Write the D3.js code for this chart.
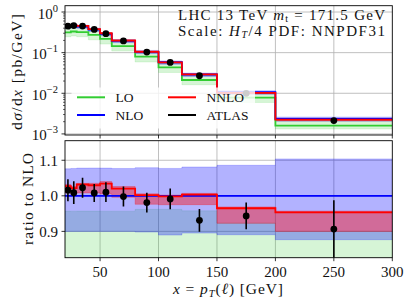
<!DOCTYPE html>
<html><head><meta charset="utf-8">
<script src="https://cdn.jsdelivr.net/npm/d3@7"></script>
<style>
html,body{margin:0;padding:0;background:#fff;}
svg{display:block;font-family:"Liberation Serif","DejaVu Serif",serif;}
</style></head>
<body><svg id="c" width="409" height="307"></svg>
<script>
// ---- data (pb/GeV) ----
const binEdges = [20,25,30,40,50,60,80,100,120,150,200,300];
const nloCentral = [0.44,0.46,0.44,0.37,0.29,0.195,0.105,0.058,0.029,0.0106,0.00235];
const nnloCentral = [0.452,0.470,0.454,0.381,0.300,0.199,0.1052,0.0579,0.0291,0.01023,0.00224];
const loCentral = [0.317,0.331,0.321,0.274,0.2175,0.1443,0.0798,0.0435,0.0212,0.00784,0.0016];
const nloLow  = [0.396,0.414,0.396,0.333,0.261,0.1755,0.0943,0.0516,0.02596,0.00944,0.00206];
const nloHigh = [0.4734,0.4954,0.4743,0.3989,0.3126,0.2100,0.1133,0.06247,0.03135,0.01151,0.002594];
const nnloLow  = [0.4435,0.4623,0.4435,0.373,0.2915,0.1942,0.1025,0.05655,0.02828,0.00978,0.002115];
const nnloHigh = [0.4541,0.472,0.4554,0.383,0.3016,0.2001,0.1056,0.05812,0.0292,0.01027,0.002249];
const loLow  = [0.2464,0.2576,0.2464,0.2072,0.1624,0.1092,0.0588,0.0325,0.01624,0.00594,0.00132];
const loHigh = [0.4211,0.4402,0.4211,0.3541,0.2775,0.1866,0.1010,0.0558,0.02778,0.00979,0.002115];
const atlasX = [22.5,27.5,35,45,55,70,90,110,135,175,250];
const atlasY = [0.447,0.464,0.45,0.373,0.293,0.1946,0.103,0.0575,0.027,0.0100,0.00213];
const atlasErr = [0.0136,0.0147,0.0123,0.0093,0.0081,0.0055,0.0029,0.0017,0.00093,0.0004,0.00019];
const xTicks = [50,100,150,200,250,300];
const topTicks = [1,0.1,0.01,0.001];
const topTickExp = ["0","\u22121","\u22122","\u22123"];
const ratioTicks = [0.9,1.0,1.1];
const ratioTickLabels = ["0.9","1.0","1.1"];
const legendNames = ["LO","NLO","NNLO","ATLAS"];

const cLO = "rgb(50,205,50)", cNLO = "rgb(0,0,255)", cNNLO = "rgb(255,0,0)";

const svg = d3.select("#c");
const L = 65, R = 392.3;
const x = d3.scaleLinear([20,300],[L,R]);
const yT = d3.scaleLog([9.4e-4,1.43],[135,5.7]);
const yB = d3.scaleLinear([0.826,1.155],[257.7,140.7]);
const panels = [{y:yT, top:5.7, bot:135, id:"cpT"},{y:yB, top:140.7, bot:257.7, id:"cpB"}];

const defs = svg.append("defs");
panels.forEach(p=>{
  defs.append("clipPath").attr("id",p.id).append("rect")
    .attr("x",L).attr("y",p.top).attr("width",R-L).attr("height",p.bot-p.top);
});

function stepPts(vals){ return binEdges.map((e,i)=>[e, vals[Math.min(i,vals.length-1)]]); }
function stepLine(y){ return d3.line().x(d=>x(d[0])).y(d=>y(d[1])).curve(d3.curveStepAfter); }
function stepArea(y){ return d3.area().x(d=>x(d[0])).y0(d=>y(d[1])).y1(d=>y(d[2])).curve(d3.curveStepAfter); }
function bandPts(lo,hi){ return binEdges.map((e,i)=>{const k=Math.min(i,lo.length-1);return [e,lo[k],hi[k]];}); }

function drawPanel(p, f){
  const g = svg.append("g");
  xTicks.forEach(t=>{ if(t<300) g.append("line").attr("x1",x(t)).attr("x2",x(t)).attr("y1",p.top).attr("y2",p.bot)
     .attr("stroke","#b0b0b0").attr("stroke-width",0.8); });
  const gy = p.id==="cpT" ? topTicks : ratioTicks;
  gy.forEach(t=>g.append("line").attr("x1",L).attr("x2",R).attr("y1",p.y(t)).attr("y2",p.y(t))
     .attr("stroke","#b0b0b0").attr("stroke-width",0.8));
  const c = g.append("g").attr("clip-path",`url(#${p.id})`);
  const bands = [[loLow,loHigh,cLO,0.2],[nloLow,nloHigh,cNLO,0.3],[nnloLow,nnloHigh,cNNLO,0.4]];
  bands.forEach(([lo,hi,col,a])=>{
    const lo2 = lo.map((v,i)=>f(v,i)), hi2 = hi.map((v,i)=>f(v,i));
    c.append("path").attr("d",stepArea(p.y)(bandPts(lo2,hi2)))
      .attr("fill",col).attr("fill-opacity",a).attr("stroke",col).attr("stroke-opacity",a*0.8).attr("stroke-width",0.8);
  });
  [[loCentral,cLO],[nloCentral,cNLO],[nnloCentral,cNNLO]].forEach(([v,col])=>{
    c.append("path").attr("d",stepLine(p.y)(stepPts(v.map((q,i)=>f(q,i)))))
      .attr("fill","none").attr("stroke",col).attr("stroke-width",1.8);
  });
  const binOf = xv => d3.bisectRight(binEdges, xv)-1;
  atlasX.forEach((xv,i)=>{
    const k = binOf(xv);
    const v = f(atlasY[i],k), lo = f(atlasY[i]-atlasErr[i],k), hi = f(atlasY[i]+atlasErr[i],k);
    c.append("line").attr("x1",x(xv)).attr("x2",x(xv)).attr("y1",p.y(lo)).attr("y2",p.y(hi))
      .attr("stroke","#000").attr("stroke-width",1.6);
    c.append("circle").attr("cx",x(xv)).attr("cy",p.y(v)).attr("r",3.4).attr("fill","#000");
  });
  return g;
}

drawPanel(panels[0], v=>v);
const lg = svg.append("g");
lg.append("rect").attr("x",71.5).attr("y",87.5).attr("width",183.5).attr("height",41).attr("rx",3)
  .attr("fill","#fff").attr("fill-opacity",0.8);
const legCols = [cLO,cNLO,cNNLO,"#000"];
const legPos = [[77,97.3],[77,115],[168,97.3],[168,115]];
legendNames.forEach((n,i)=>{
  const [lx,ly] = legPos[i];
  lg.append("line").attr("x1",lx).attr("x2",lx+28).attr("y1",ly).attr("y2",ly)
    .attr("stroke",legCols[i]).attr("stroke-width",2);
  lg.append("text").attr("x",lx+38.5).attr("y",ly).attr("dy","0.36em")
    .attr("font-size",13.5).attr("fill","#111").text(n);
});

drawPanel(panels[1], (v,k)=>v/nloCentral[k]);

panels.forEach(p=>{
  svg.append("rect").attr("x",L).attr("y",p.top).attr("width",R-L).attr("height",p.bot-p.top)
    .attr("fill","none").attr("stroke","#000").attr("stroke-width",0.9);
  xTicks.forEach(t=>svg.append("line").attr("x1",x(t)).attr("x2",x(t)).attr("y1",p.bot).attr("y2",p.bot+3.5)
    .attr("stroke","#000").attr("stroke-width",0.8));
});
topTicks.forEach((t,i)=>{
  const yy = yT(t);
  svg.append("line").attr("x1",L-3.5).attr("x2",L).attr("y1",yy).attr("y2",yy).attr("stroke","#000").attr("stroke-width",0.8);
  const tx = svg.append("text").attr("x",58).attr("y",yy+6.5).attr("text-anchor","end").attr("font-size",15).attr("fill","#111");
  tx.append("tspan").text("10");
  tx.append("tspan").attr("dy",-7).attr("font-size",10.5).text(topTickExp[i]);
});
for(let e=-4;e<=0;e++){
  for(let m=2;m<=9;m++){
    const v = m*Math.pow(10,e);
    if(v<9.4e-4||v>1.43) continue;
    svg.append("line").attr("x1",L-2).attr("x2",L).attr("y1",yT(v)).attr("y2",yT(v)).attr("stroke","#000").attr("stroke-width",0.6);
  }
}
ratioTicks.forEach((t,i)=>{
  const yy = yB(t);
  svg.append("line").attr("x1",L-3.5).attr("x2",L).attr("y1",yy).attr("y2",yy).attr("stroke","#000").attr("stroke-width",0.8);
  svg.append("text").attr("x",58).attr("y",yy).attr("dy","0.35em").attr("text-anchor","end").attr("font-size",15).attr("fill","#111").text(ratioTickLabels[i]);
});
xTicks.forEach(t=>{
  svg.append("text").attr("x",x(t)).attr("y",276.5).attr("text-anchor","middle").attr("font-size",15).attr("fill","#111").text(t);
});

const a1 = svg.append("text").attr("x",178).attr("y",19.5).attr("font-size",15).attr("fill","#111")
  .attr("textLength",207).attr("lengthAdjust","spacing");
a1.append("tspan").text("LHC 13 TeV ");
a1.append("tspan").attr("font-style","italic").text("m");
a1.append("tspan").attr("font-size",10).attr("dy",2).text("t");
a1.append("tspan").attr("dy",-2).text(" = 171.5 GeV");
const a2 = svg.append("text").attr("x",178).attr("y",35.5).attr("font-size",15).attr("fill","#111")
  .attr("textLength",207).attr("lengthAdjust","spacing");
a2.append("tspan").text("Scale: ");
a2.append("tspan").attr("font-style","italic").text("H");
a2.append("tspan").attr("font-style","italic").attr("font-size",10).attr("dy",2.5).text("T");
a2.append("tspan").attr("dy",-2.5).text("/4 PDF: NNPDF31");

const yl1 = svg.append("text").attr("transform","translate(22,72) rotate(-90)").attr("text-anchor","middle")
  .attr("font-size",15.5).attr("fill","#111").attr("textLength",116).attr("lengthAdjust","spacing");
yl1.append("tspan").text("d");
yl1.append("tspan").attr("font-style","italic").text("σ");
yl1.append("tspan").text("/d");
yl1.append("tspan").attr("font-style","italic").text("x");
yl1.append("tspan").text(" [pb/GeV]");
svg.append("text").attr("transform","translate(33,199) rotate(-90)").attr("text-anchor","middle")
  .attr("font-size",15.5).attr("fill","#111").attr("textLength",92).attr("lengthAdjust","spacing").text("ratio to NLO");
const xl = svg.append("text").attr("x",228).attr("y",294).attr("text-anchor","middle")
  .attr("font-size",15.5).attr("fill","#111").attr("textLength",110).attr("lengthAdjust","spacing");
xl.append("tspan").attr("font-style","italic").text("x");
xl.append("tspan").text(" = ");
xl.append("tspan").attr("font-style","italic").text("p");
xl.append("tspan").attr("font-style","italic").attr("font-size",10.5).attr("dy",3).text("T");
xl.append("tspan").attr("dy",-3).text("(");
xl.append("tspan").attr("font-style","italic").text("ℓ");
xl.append("tspan").text(") [GeV]");
</script></body></html>
